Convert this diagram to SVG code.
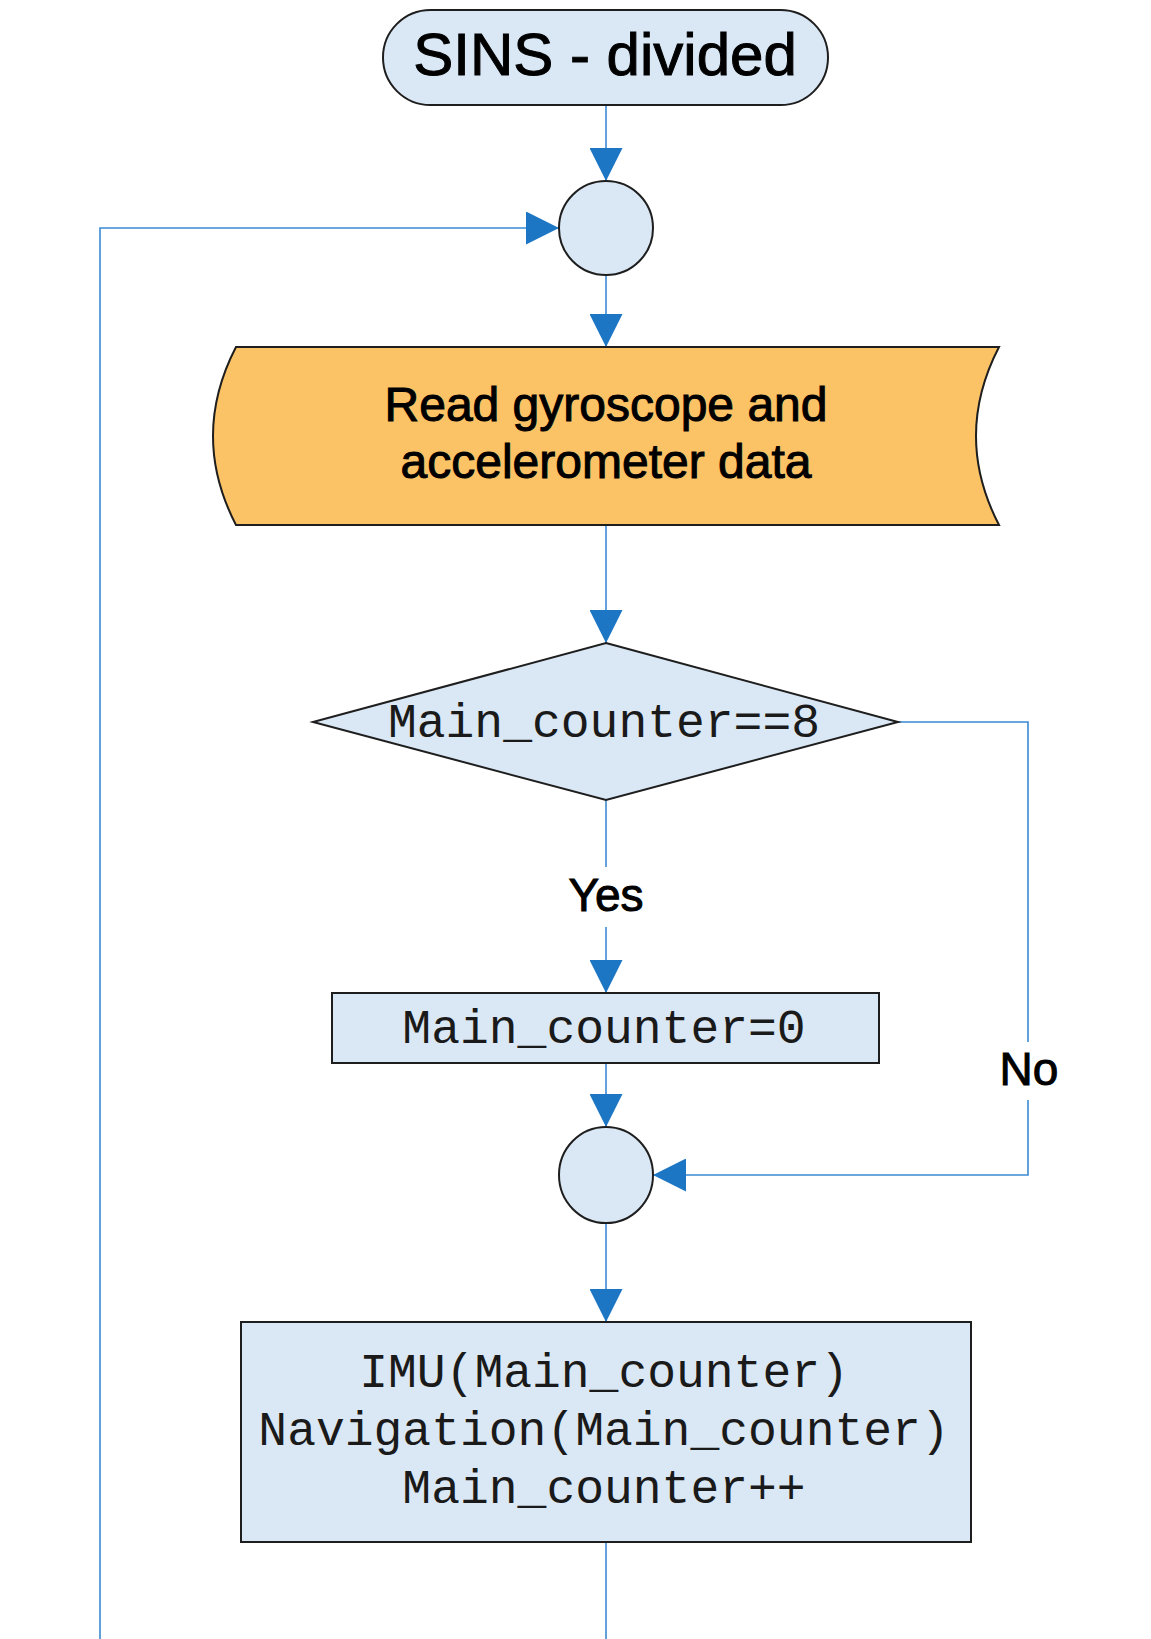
<svg xmlns="http://www.w3.org/2000/svg" width="1151" height="1639" viewBox="0 0 1151 1639">
<style>
.node{fill:#dae8f5;stroke:#1e1e1e;stroke-width:2}
.data{fill:#fcc266;stroke:#1e1e1e;stroke-width:2}
.conn{fill:none;stroke:#3a8ad4;stroke-width:1.6}
.sans{font-family:"Liberation Sans",Arial,sans-serif;fill:#000;stroke:#000;stroke-width:1;text-anchor:middle}
.mono{font-family:"Liberation Mono","Courier New",monospace;fill:#1a1a1a;text-anchor:middle;font-size:48px}
</style>
<defs>
<marker id="arr" markerUnits="userSpaceOnUse" markerWidth="33" markerHeight="33" refX="33" refY="16.5" orient="auto" viewBox="0 0 33 33">
<path d="M0,0 L33,16.5 L0,33 Z" fill="#1d76c3"/>
</marker>
</defs>
<g id="connectors">
<path class="conn" d="M606,105 V181" marker-end="url(#arr)"/>
<path class="conn" d="M100,1639 V228 H559" marker-end="url(#arr)"/>
<path class="conn" d="M606,275 V347" marker-end="url(#arr)"/>
<path class="conn" d="M606,526 V643" marker-end="url(#arr)"/>
<path class="conn" d="M898,722 H1028 V1042"/>
<path class="conn" d="M1028,1100 V1175 H653" marker-end="url(#arr)"/>
<path class="conn" d="M606,800 V867"/>
<path class="conn" d="M606,927 V993" marker-end="url(#arr)"/>
<path class="conn" d="M606,1063 V1127" marker-end="url(#arr)"/>
<path class="conn" d="M606,1223 V1322" marker-end="url(#arr)"/>
<path class="conn" d="M606,1542 V1639"/>
<text class="sans" x="606" y="911" font-size="46">Yes</text>
<text class="sans" x="1029" y="1085" font-size="46">No</text>
</g>
<g id="start">
<rect class="node" x="383" y="10" width="445" height="95" rx="47.5"/>
<text class="sans" x="605" y="75" font-size="60">SINS - divided</text>
</g>
<g id="junction1">
<circle class="node" cx="606" cy="228" r="47"/>
</g>
<g id="read">
<path class="data" d="M236,347 H999 Q953,436 999,525 H236 Q190,436 236,347 Z"/>
<text class="sans" x="606" y="421" font-size="48">Read gyroscope and</text>
<text class="sans" x="606" y="478" font-size="48">accelerometer data</text>
</g>
<g id="decision">
<path class="node" d="M606,643 L898,722 L606,800 L313,722 Z"/>
<text class="mono" x="604" y="737">Main_counter==8</text>
</g>
<g id="reset">
<rect class="node" x="332" y="993" width="547" height="70"/>
<text class="mono" x="604" y="1043">Main_counter=0</text>
</g>
<g id="junction2">
<ellipse class="node" cx="606" cy="1175" rx="47" ry="48"/>
</g>
<g id="process">
<rect class="node" x="241" y="1322" width="730" height="220"/>
<text class="mono" x="604" y="1387">IMU(Main_counter)</text>
<text class="mono" x="604" y="1445">Navigation(Main_counter)</text>
<text class="mono" x="604" y="1503">Main_counter++</text>
</g>
</svg>
